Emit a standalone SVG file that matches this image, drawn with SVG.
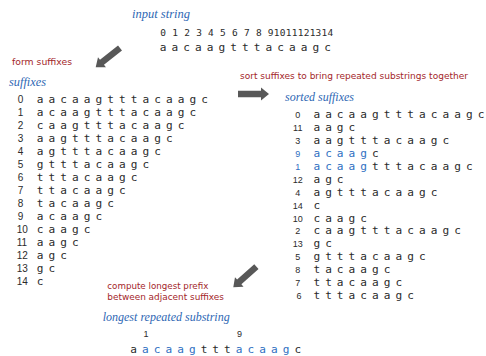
<svg xmlns="http://www.w3.org/2000/svg" width="486" height="356" viewBox="0 0 486 356">
  <style>
    .title { font-family: "Liberation Serif", serif; font-style: italic; font-size: 13px; fill: #2e67b4; }
    .note { font-family: "DejaVu Sans", "Liberation Sans", sans-serif; font-size: 9px; fill: #a3262a; }
    .seq { font-family: "DejaVu Sans Mono", "Liberation Mono", monospace; font-size: 11.1px; fill: #2b2b2b; letter-spacing: -0.81px; white-space: pre; }
    .hl { fill: #2f6fc2; }
    .idx { font-family: "Liberation Sans", sans-serif; font-size: 10px; fill: #2b2b2b; }
    .idx2 { font-family: "Liberation Sans", sans-serif; font-size: 9px; fill: #2b2b2b; text-anchor: middle; }
    .pos { font-family: "DejaVu Sans Mono", "Liberation Mono", monospace; font-size: 9.5px; fill: #2b2b2b; white-space: pre; }
    .arrow { fill: #585858; }
  </style>
  <defs>
    <polygon id="arrowShape" points="0,-3.2 23,-3.2 23,-6.4 31,0 23,6.4 23,3.2 0,3.2"/>
  </defs>

  <!-- input string with character positions -->
  <g id="input">
    <text class="title" x="132" y="18" textLength="58" lengthAdjust="spacingAndGlyphs">input string</text>
    <text class="pos" x="160.3" y="36" textLength="173" lengthAdjust="spacing">0 1 2 3 4 5 6 7 8 91011121314</text>
    <text class="seq" x="159.8" y="50.5">a a c a a g t t t a c a a g c</text>
  </g>

  <!-- unsorted suffixes: index column and suffix column -->
  <g id="suffixes">
    <text class="title" x="9" y="86" textLength="37" lengthAdjust="spacingAndGlyphs">suffixes</text>
    <text class="idx">
      <tspan x="17.8" y="103.3">0</tspan>
      <tspan x="17.8" y="116.3">1</tspan>
      <tspan x="17.8" y="129.3">2</tspan>
      <tspan x="17.8" y="142.3">3</tspan>
      <tspan x="17.8" y="155.3">4</tspan>
      <tspan x="17.8" y="168.3">5</tspan>
      <tspan x="17.8" y="181.3">6</tspan>
      <tspan x="17.8" y="194.3">7</tspan>
      <tspan x="17.8" y="207.3">8</tspan>
      <tspan x="17.8" y="220.3">9</tspan>
      <tspan x="16.8" y="233.3">10</tspan>
      <tspan x="16.8" y="246.3">11</tspan>
      <tspan x="16.8" y="259.3">12</tspan>
      <tspan x="16.8" y="272.3">13</tspan>
      <tspan x="16.8" y="285.3">14</tspan>
    </text>
    <text class="seq"><tspan x="36.8" y="103.3">a a c a a g t t t a c a a g c</tspan><tspan x="36.8" y="116.3">a c a a g t t t a c a a g c</tspan><tspan x="36.8" y="129.3">c a a g t t t a c a a g c</tspan><tspan x="36.8" y="142.3">a a g t t t a c a a g c</tspan><tspan x="36.8" y="155.3">a g t t t a c a a g c</tspan><tspan x="36.8" y="168.3">g t t t a c a a g c</tspan><tspan x="36.8" y="181.3">t t t a c a a g c</tspan><tspan x="36.8" y="194.3">t t a c a a g c</tspan><tspan x="36.8" y="207.3">t a c a a g c</tspan><tspan x="36.8" y="220.3">a c a a g c</tspan><tspan x="36.8" y="233.3">c a a g c</tspan><tspan x="36.8" y="246.3">a a g c</tspan><tspan x="36.8" y="259.3">a g c</tspan><tspan x="36.8" y="272.3">g c</tspan><tspan x="36.8" y="285.3">c</tspan></text>
  </g>

  <!-- sorted suffixes: index column and suffix column -->
  <g id="sorted">
    <text class="title" x="285" y="101" textLength="69" lengthAdjust="spacingAndGlyphs">sorted suffixes</text>
    <text class="idx2">
      <tspan x="299" y="117.7">0</tspan>
      <tspan x="299" y="130.7">11</tspan>
      <tspan x="299" y="143.6">3</tspan>
      <tspan x="299" y="156.6" class="hl">9</tspan>
      <tspan x="299" y="169.6" class="hl">1</tspan>
      <tspan x="299" y="182.6">12</tspan>
      <tspan x="299" y="195.5">4</tspan>
      <tspan x="299" y="208.5">14</tspan>
      <tspan x="299" y="221.5">10</tspan>
      <tspan x="299" y="234.4">2</tspan>
      <tspan x="299" y="247.4">13</tspan>
      <tspan x="299" y="260.4">5</tspan>
      <tspan x="299" y="273.3">8</tspan>
      <tspan x="299" y="286.3">7</tspan>
      <tspan x="299" y="299.3">6</tspan>
    </text>
    <text class="seq"><tspan x="313.4" y="117.7">a a c a a g t t t a c a a g c</tspan><tspan x="313.4" y="130.7">a a g c</tspan><tspan x="313.4" y="143.6">a a g t t t a c a a g c</tspan><tspan x="313.4" y="156.6"><tspan class="hl">a c a a g</tspan> c</tspan><tspan x="313.4" y="169.6"><tspan class="hl">a c a a g</tspan> t t t a c a a g c</tspan><tspan x="313.4" y="182.6">a g c</tspan><tspan x="313.4" y="195.5">a g t t t a c a a g c</tspan><tspan x="313.4" y="208.5">c</tspan><tspan x="313.4" y="221.5">c a a g c</tspan><tspan x="313.4" y="234.4">c a a g t t t a c a a g c</tspan><tspan x="313.4" y="247.4">g c</tspan><tspan x="313.4" y="260.4">g t t t a c a a g c</tspan><tspan x="313.4" y="273.3">t a c a a g c</tspan><tspan x="313.4" y="286.3">t t a c a a g c</tspan><tspan x="313.4" y="299.3">t t t a c a a g c</tspan></text>
  </g>

  <!-- result: longest repeated substring -->
  <g id="result">
    <text class="title" x="102.7" y="321" textLength="127" lengthAdjust="spacingAndGlyphs">longest repeated substring</text>
    <text class="idx2 hl"><tspan x="146" y="337">1</tspan><tspan x="239.4" y="337">9</tspan></text>
    <text class="seq" x="130.2" y="353">a <tspan class="hl">a c a a g</tspan> t t t <tspan class="hl">a c a a g</tspan> c</text>
  </g>

  <!-- step annotations -->
  <g id="notes">
    <text class="note" x="12" y="65.3" textLength="60" lengthAdjust="spacingAndGlyphs">form suffixes</text>
    <text class="note" x="240" y="79" textLength="228" lengthAdjust="spacingAndGlyphs">sort suffixes to bring repeated substrings together</text>
    <text class="note" x="107.3" y="289" textLength="101" lengthAdjust="spacingAndGlyphs">compute longest prefix</text>
    <text class="note" x="107.3" y="300" textLength="116.7" lengthAdjust="spacingAndGlyphs">between adjacent suffixes</text>
  </g>

  <!-- connectors between steps -->
  <g id="connectors" class="arrow">
    <use href="#arrowShape" transform="translate(120 48) rotate(141.6)"/>
    <use href="#arrowShape" transform="translate(238 94)"/>
    <use href="#arrowShape" transform="translate(256.4 266.6) rotate(138.2)"/>
  </g>
</svg>
